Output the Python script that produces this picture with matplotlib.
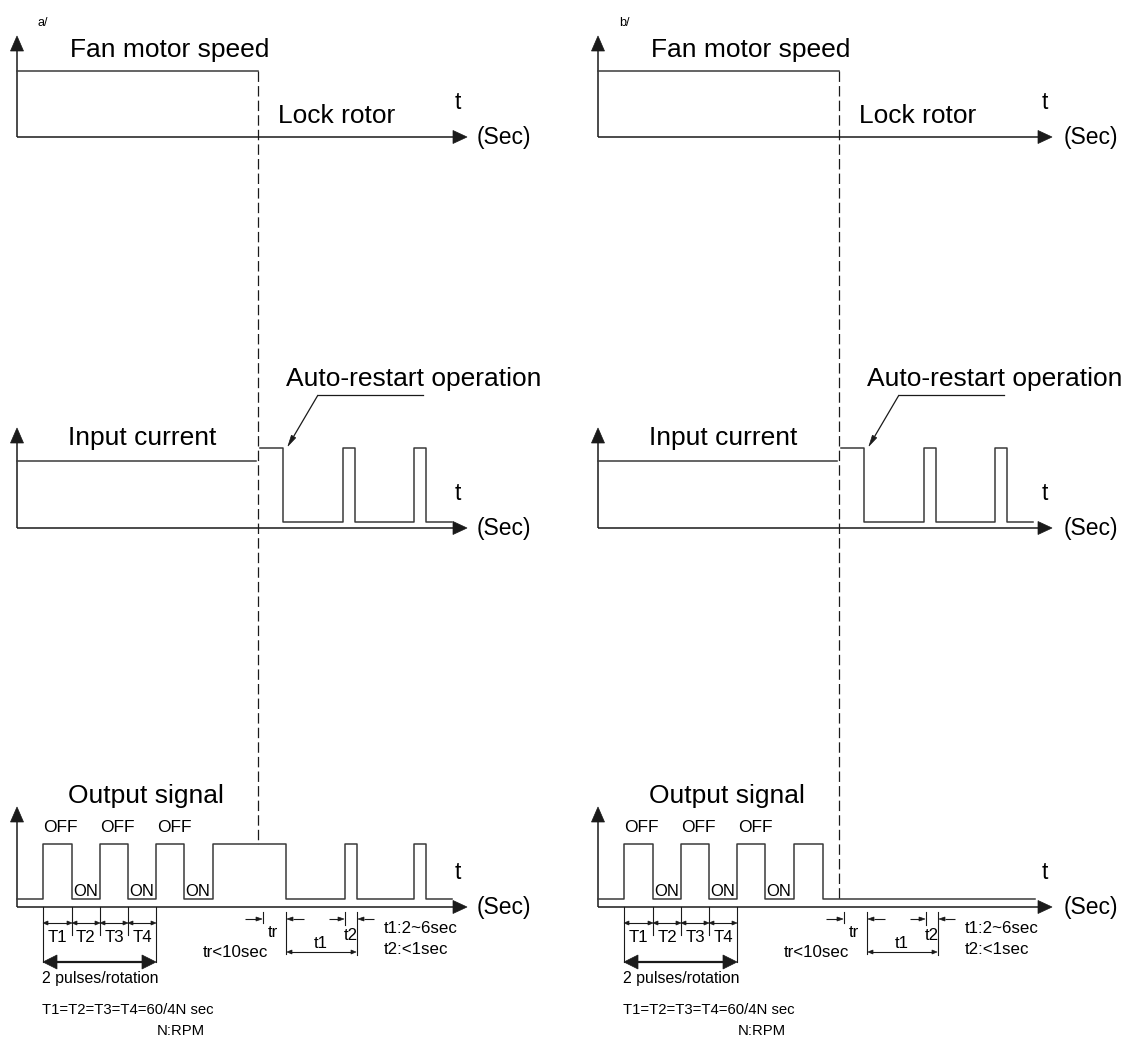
import matplotlib
matplotlib.use('Agg')
import matplotlib.pyplot as plt
from matplotlib.patches import Polygon
import numpy as np

plt.rcParams['font.family'] = ['Liberation Sans', 'DejaVu Sans']
plt.rcParams['lines.scale_dashes'] = False

# ---------------- data ----------------
panel_tags = ["a/", "b/"]
row_titles = ["Fan motor speed", "Input current", "Output signal"]
lock_label = "Lock rotor"
restart_label = "Auto-restart operation"
time_label = "t"
unit_label = "(Sec)"
off_label = "OFF"
on_label = "ON"
period_labels = ["T1", "T2", "T3", "T4"]
pulses_label = "2 pulses/rotation"
period_formula = "T1=T2=T3=T4=60/4N sec"
rpm_label = "N:RPM"
tr_label = "tr"
tr_note = "tr<10sec"
t1_label = "t1"
t2_label = "t2"
t1_note = "t1:2~6sec"
t2_note = "t2:<1sec"

# time instants on the diagram time axis (same for both panels)
lock_time = 258
speed_edges = [17, 258]
speed_states = [1.0]

current_edges = [17, 256]
current_states = [1.0]
restart_edges = [260, 283, 343, 355, 414, 426, 452]
restart_states = [1.2, 0.09, 1.2, 0.09, 1.2, 0.09]

# output signal: OFF = 1.0 (high), ON = 0.13 (low)
output_edges_a = [17, 43, 72, 100, 128, 156, 184, 213, 286, 345, 357, 414, 426, 452]
output_states_a = [0.13, 1.0, 0.13, 1.0, 0.13, 1.0, 0.13, 1.0, 0.13, 1.0, 0.13, 1.0, 0.13]
output_edges_b = [17, 43, 72, 100, 128, 156, 184, 213, 242, 454]
output_states_b = [0.13, 1.0, 0.13, 1.0, 0.13, 1.0, 0.13, 1.0, 0.13]
period_edges = [43, 72, 100, 128, 156]
tr_mark = 263
t1_start, t2_start, t2_end = 286, 345, 357

# ---------------- layout (positions / styles) ----------------
W, H = 1126, 1039
panel_shift = [0, 581]
axis_end = [467, 471]
unit_x = [477, 483]
t_x = [455, 461]
row_base = [137, 528, 907]
row_unit = [66, 67, 63]
row_tip = [36, 428, 807]
axis_x0 = 17
LINE = '#1a1a1a'
SIG = '#3a3a3a'
LW = 1.1

fig = plt.figure(figsize=(W / 100, H / 100), dpi=100)
ax = fig.add_axes([0, 0, 1, 1])
ax.set_xlim(0, W)
ax.set_ylim(H, 0)
ax.axis('off')


def head(x_tip, y_tip, dx, dy, length, width, color=LINE):
    n = np.hypot(dx, dy)
    ux, uy = dx / n, dy / n
    bx, by = x_tip - ux * length, y_tip - uy * length
    px, py = -uy, ux
    pts = [(x_tip, y_tip), (bx + px * width / 2, by + py * width / 2),
           (bx - px * width / 2, by - py * width / 2)]
    ax.add_patch(Polygon(pts, closed=True, facecolor=color, edgecolor=color, lw=0.5))
    return bx, by


def arrow(x0, y0, x1, y1, length=14, width=13, lw=LW, color=LINE):
    bx, by = head(x1, y1, x1 - x0, y1 - y0, length, width, color)
    ax.plot([x0, bx], [y0, by], color=color, lw=lw, solid_capstyle='butt')


def darrow(x0, x1, y, length=5, width=4, lw=0.8, color=LINE):
    head(x0, y, -1, 0, length, width, color)
    head(x1, y, 1, 0, length, width, color)
    ax.plot([x0 + length, x1 - length], [y, y], color=color, lw=lw)


def step(edges, states, row, dx):
    ys = [row_base[row] - row_unit[row] * s for s in states]
    xs = [e + dx for e in edges]
    ax.step(xs, ys + [ys[-1]], where='post', color=SIG, lw=LW)


def txt(x, y, s, size, **kw):
    ax.text(x, y, s, fontsize=size, va='baseline', ha=kw.pop('ha', 'left'),
            color='black', **kw)


BIG = 19
MID = 16.5
SMALL = 12.2

for p in range(2):
    dx = panel_shift[p]
    out_edges = output_edges_a if p == 0 else output_edges_b
    out_states = output_states_a if p == 0 else output_states_b

    txt(38 + dx, 26, panel_tags[p], 9)

    # axes of the three rows
    for r in range(3):
        arrow(axis_x0 + dx, row_base[r], axis_x0 + dx, row_tip[r], length=15, width=13)
        arrow(axis_x0 + dx, row_base[r], axis_end[p] + dx, row_base[r], length=14, width=13)
        txt(t_x[p] + dx, row_base[r] - 28, time_label, MID)
        txt(unit_x[p] + dx, row_base[r] + 7, unit_label, MID)

    txt(70 + dx, 57, row_titles[0], BIG)
    txt(68 + dx, 445, row_titles[1], BIG)
    txt(68 + dx, 803, row_titles[2], BIG)
    txt(278 + dx, 123, lock_label, BIG)
    txt(286 + dx, 386, restart_label, BIG)

    # signals
    step(speed_edges, speed_states, 0, dx)
    step(current_edges, current_states, 1, dx)
    step(restart_edges, restart_states, 1, dx)
    step(out_edges, out_states, 2, dx)

    # lock-rotor dashed line
    y_end = row_base[2] - row_unit[2] * (1.0 if p == 0 else 0.13)
    ax.plot([lock_time + dx, lock_time + dx],
            [row_base[0] - row_unit[0] * speed_states[0], y_end],
            color=LINE, lw=0.9, dashes=(7.5, 3.0))

    # auto-restart leader
    ax.plot([423 + dx, 318 + dx], [395, 395], color=LINE, lw=0.9)
    arrow(318 + dx, 395, 288 + dx, 446, length=11, width=5, lw=0.9)

    # OFF / ON labels
    for i in range(3):
        txt(period_edges[0] + 57 * i + dx, 832, off_label, 12.5)
    for i in range(3):
        txt(out_edges[2 + 2 * i] + 1 + dx, 896, on_label, 12)

    # period dimensions
    yb = row_base[2]
    for i, e in enumerate(period_edges):
        y2 = 962 if i in (0, len(period_edges) - 1) else 935
        ax.plot([e + dx, e + dx], [yb, y2], color=LINE, lw=0.8)
    for i in range(4):
        darrow(period_edges[i] + dx, period_edges[i + 1] + dx, 923)
        txt((period_edges[i] + period_edges[i + 1]) / 2 + dx, 942,
            period_labels[i], SMALL, ha='center')
    darrow(period_edges[0] + dx, period_edges[-1] + dx, 962, length=14, width=14, lw=1.6)
    txt(42 + dx, 983, pulses_label, 11.4)
    txt(42 + dx, 1014, period_formula, 10.7)
    txt(157 + dx, 1035, rpm_label, 10.7)

    # tr annotation
    arrow(245 + dx, 919, tr_mark - 1 + dx, 919, length=6, width=4, lw=0.8)
    ax.plot([tr_mark + dx] * 2, [912, 923], color=LINE, lw=0.8)
    txt(268 + dx, 937, tr_label, SMALL)
    txt(203 + dx, 957, tr_note, SMALL)

    # t1 / t2 annotation
    ax.plot([t1_start + dx] * 2, [912, 954], color=LINE, lw=0.8)
    ax.plot([t2_start + dx] * 2, [912, 925], color=LINE, lw=0.8)
    ax.plot([t2_end + dx] * 2, [912, 955], color=LINE, lw=0.8)
    arrow(304 + dx, 919, t1_start + 1 + dx, 919, length=6, width=4, lw=0.8)
    arrow(329 + dx, 919, t2_start - 1 + dx, 919, length=6, width=4, lw=0.8)
    arrow(374 + dx, 919, t2_end + 1 + dx, 919, length=6, width=4, lw=0.8)
    darrow(t1_start + 1 + dx, t2_end - 1 + dx, 952)
    txt(314 + dx, 948, t1_label, SMALL)
    txt(351 + dx, 940, t2_label, SMALL, ha='center')
    txt(384 + dx, 933, t1_note, SMALL)
    txt(384 + dx, 954, t2_note, SMALL)

fig.savefig('out.png', dpi=100, facecolor='white')
